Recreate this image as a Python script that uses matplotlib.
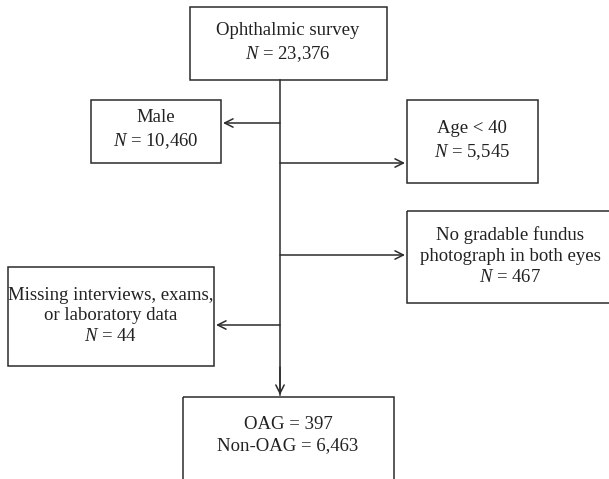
import matplotlib.pyplot as plt
from matplotlib.patches import Rectangle

# flowchart content
labels = ["Ophthalmic survey\n$N$ = 23,376",
          "Male\n$N$ = 10,460",
          "Age < 40\n$N$ = 5,545",
          "No gradable fundus\nphotograph in both eyes\n$N$ = 467",
          "Missing interviews, exams,\nor laboratory data\n$N$ = 44",
          "OAG = 397\nNon-OAG = 6,463"]
# box extents in pixels: left, top, right, bottom
boxes = [(190, 7, 387, 80),
         (91, 100, 221, 163),
         (407, 100, 538, 183),
         (407, 211, 615, 303),
         (8, 267, 214, 366),
         (183, 397, 394, 485)]
text_pos = [(288, 43), (156, 130), (472, 141), (510, 256), (111, 316), (288, 435)]
# side arrows: y level, target x
branch_y = [123, 163, 255, 325]
branch_x = [221, 407, 407, 214]
trunk_x = 280

plt.rcParams['font.family'] = ['Liberation Serif', 'DejaVu Serif']
plt.rcParams['mathtext.fontset'] = 'custom'
plt.rcParams['mathtext.it'] = 'Liberation Serif:italic'
plt.rcParams['mathtext.rm'] = 'Liberation Serif'

fig = plt.figure(figsize=(6.09, 4.79), dpi=100)
ax = fig.add_axes([0, 0, 1, 1])
ax.set_xlim(0, 609)
ax.set_ylim(479, 0)
ax.axis('off')

col = '#2b2b2b'
for (l, t, r, b), lab, (cx, cy) in zip(boxes, labels, text_pos):
    ax.add_patch(Rectangle((l, t), r - l, b - t, fill=False, ec=col, lw=1.1))
    ax.text(cx, cy, lab, ha='center', va='center', fontsize=13.5,
            color='#222222', linespacing=1.3)

ax.plot([trunk_x, trunk_x], [boxes[0][3], boxes[5][1] - 2], color=col, lw=1.1)
arr = dict(arrowstyle='->', color=col, lw=1.1, mutation_scale=15,
           shrinkA=0, shrinkB=0)
for y, x in zip(branch_y, branch_x):
    ax.annotate('', xy=(x + (2 if x < trunk_x else -2), y), xytext=(trunk_x, y),
                arrowprops=arr)
ax.annotate('', xy=(trunk_x, boxes[5][1] - 2), xytext=(trunk_x, boxes[5][1] - 30),
            arrowprops=arr)

fig.savefig('out.png', dpi=100)
